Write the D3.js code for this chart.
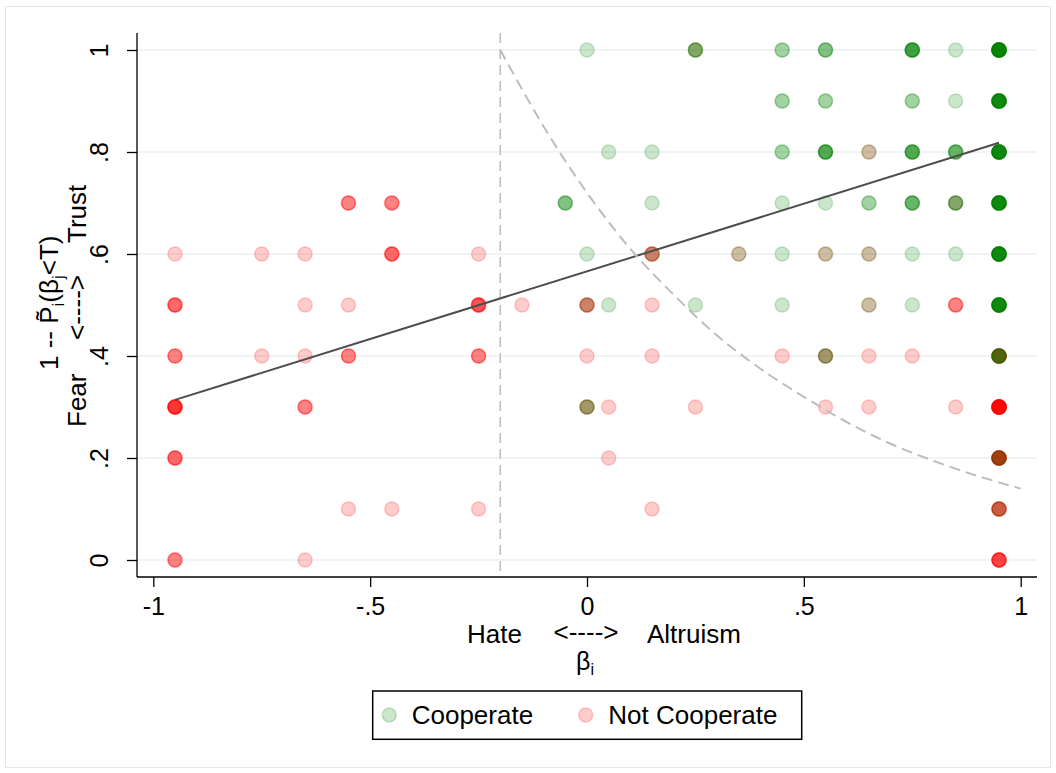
<!DOCTYPE html>
<html>

<head>
  <meta charset="utf-8">
  <title>Cooperation scatter</title>
  <style>
    body { margin: 0; background: #fff; }
    text { font-family: 'Liberation Sans', Arial, Helvetica, sans-serif; fill: #000; }
  </style>
</head>

<body>

  <script src="https://cdn.jsdelivr.net/npm/d3@7"></script>
  <script>
    // Not Cooperate: position and how many people sit on that spot
    const notX = [-0.95, -0.75, -0.65, -0.45, -0.25, 0.15, 0.35, 0.55, 0.65,
      -0.55, -0.45, 0.85,
      -0.95, -0.65, -0.55, -0.25, -0.15, 0, 0.15, 0.65, 0.85,
      -0.95, -0.75, -0.65, -0.55, -0.25, 0, 0.15, 0.45, 0.55, 0.65, 0.75, 0.95,
      -0.95, -0.65, 0, 0.05, 0.25, 0.55, 0.65, 0.85, 0.95,
      -0.95, 0.05, 0.95,
      -0.55, -0.45, -0.25, 0.15, 0.95,
      -0.95, -0.65, 0.95,
      0.25, 0.65];
    const notY = [0.6, 0.6, 0.6, 0.6, 0.6, 0.6, 0.6, 0.6, 0.6,
      0.7, 0.7, 0.7,
      0.5, 0.5, 0.5, 0.5, 0.5, 0.5, 0.5, 0.5, 0.5,
      0.4, 0.4, 0.4, 0.4, 0.4, 0.4, 0.4, 0.4, 0.4, 0.4, 0.4, 0.4,
      0.3, 0.3, 0.3, 0.3, 0.3, 0.3, 0.3, 0.3, 0.3,
      0.2, 0.2, 0.2,
      0.1, 0.1, 0.1, 0.1, 0.1,
      0, 0, 0,
      1.0, 0.8];
    const notN = [1, 1, 1, 4, 1, 3, 1, 1, 1,
      3, 3, 1,
      4, 1, 1, 5, 1, 3, 1, 1, 3,
      3, 1, 1, 3, 3, 1, 1, 1, 2, 1, 1, 8,
      7, 3, 2, 1, 1, 1, 1, 1, 15,
      4, 1, 10,
      1, 1, 1, 1, 5,
      3, 1, 6,
      1, 1];

    // Cooperate
    const coopX = [0, 0.25, 0.45, 0.55, 0.75, 0.85, 0.95,
      0.45, 0.55, 0.75, 0.85, 0.95,
      0.05, 0.15, 0.45, 0.55, 0.65, 0.75, 0.85, 0.95,
      -0.05, 0.15, 0.45, 0.55, 0.65, 0.75, 0.85, 0.95,
      0, 0.15, 0.35, 0.45, 0.55, 0.65, 0.75, 0.85, 0.95,
      0, 0.05, 0.25, 0.45, 0.65, 0.75, 0.95,
      0.55, 0.95,
      0,
      0.95,
      0.95];
    const coopY = [1, 1, 1, 1, 1, 1, 1,
      0.9, 0.9, 0.9, 0.9, 0.9,
      0.8, 0.8, 0.8, 0.8, 0.8, 0.8, 0.8, 0.8,
      0.7, 0.7, 0.7, 0.7, 0.7, 0.7, 0.7, 0.7,
      0.6, 0.6, 0.6, 0.6, 0.6, 0.6, 0.6, 0.6, 0.6,
      0.5, 0.5, 0.5, 0.5, 0.5, 0.5, 0.5,
      0.4, 0.4,
      0.3,
      0.2,
      0.1];
    const coopN = [1, 3, 2, 3, 6, 1, 15,
      2, 2, 2, 1, 12,
      1, 1, 2, 5, 1, 5, 4, 12,
      3, 1, 1, 1, 2, 4, 3, 12,
      1, 1, 1, 1, 1, 1, 1, 1, 12,
      1, 1, 1, 1, 1, 1, 12,
      2, 5,
      2,
      2,
      1];

    // linear fit and the threshold curve
    const fitX = [-0.95, 0.95];
    const fitY = [0.314, 0.818];
    const curveX = [-0.2, -0.1, 0, 0.1, 0.2, 0.3, 0.4, 0.5, 0.6, 0.7, 0.8, 0.9, 1.0];
    const curveY = [1.0, 0.85, 0.72, 0.61, 0.52, 0.44, 0.375, 0.32, 0.27, 0.228, 0.194, 0.165, 0.14];
    const cutX = -0.2;

    const xTicks = [-1, -0.5, 0, 0.5, 1];
    const xTickLabels = ['-1', '-.5', '0', '.5', '1'];
    const yTicks = [0, 0.2, 0.4, 0.6, 0.8, 1];
    const yTickLabels = ['0', '.2', '.4', '.6', '.8', '1'];

    const width = 1056;
    const height = 773;
    const plot = { left: 137, right: 1037, top: 33, bottom: 577 };

    const svg = d3.select('body')
      .append('svg')
      .attr('width', width)
      .attr('height', height);

    // outer frame
    svg.append('rect')
      .attr('x', 5.5).attr('y', 6.5)
      .attr('width', 1045).attr('height', 761)
      .attr('fill', 'none')
      .attr('stroke', '#e3e9eb');

    const x = d3.scaleLinear().domain([-1, 1]).range([153.3, 1020.7]);
    const y = d3.scaleLinear().domain([0, 1]).range([560, 50]);

    // grid
    svg.append('g')
      .selectAll('line')
      .data(yTicks)
      .join('line')
      .attr('x1', plot.left).attr('x2', plot.right)
      .attr('y1', (d) => y(d)).attr('y2', (d) => y(d))
      .attr('stroke', '#eaf1f3')
      .attr('stroke-width', 1.5);

    // vertical cut line
    svg.append('line')
      .attr('x1', x(cutX)).attr('x2', x(cutX))
      .attr('y1', plot.top).attr('y2', plot.bottom)
      .attr('stroke', '#bdbdbd')
      .attr('stroke-width', 1.5)
      .attr('stroke-dasharray', '10,6');

    // expand counts into single observations
    const expand = (xs, ys, ns) => xs.flatMap((v, i) => d3.range(ns[i]).map(() => [v, ys[i]]));

    const drawPoints = (selection, pts, color) => {
      selection.append('g')
        .selectAll('circle')
        .data(pts)
        .join('circle')
        .attr('cx', (d) => x(d[0]))
        .attr('cy', (d) => y(d[1]))
        .attr('r', 7)
        .attr('fill', color)
        .attr('fill-opacity', 0.2)
        .attr('stroke', color)
        .attr('stroke-opacity', 0.2)
        .attr('stroke-width', 1.5);
    };

    svg
      .call(drawPoints, expand(notX, notY, notN), '#ff0000')
      .call(drawPoints, expand(coopX, coopY, coopN), '#008000');

    // fit line
    svg.append('path')
      .datum(d3.zip(fitX, fitY))
      .attr('d', d3.line().x((d) => x(d[0])).y((d) => y(d[1])))
      .attr('fill', 'none')
      .attr('stroke', '#4d4d4d')
      .attr('stroke-width', 2);

    // threshold curve
    svg.append('path')
      .datum(d3.zip(curveX, curveY))
      .attr('d', d3.line().curve(d3.curveCatmullRom).x((d) => x(d[0])).y((d) => y(d[1])))
      .attr('fill', 'none')
      .attr('stroke', '#bdbdbd')
      .attr('stroke-width', 2)
      .attr('stroke-dasharray', '11,6');

    // x axis
    const xAxis = svg.append('g')
      .attr('transform', `translate(0,${plot.bottom})`)
      .call(d3.axisBottom(x)
        .tickValues(xTicks)
        .tickFormat((d, i) => xTickLabels[i])
        .tickSize(10)
        .tickSizeOuter(0)
        .tickPadding(10));
    xAxis.select('.domain').remove();
    xAxis.selectAll('line').attr('stroke', '#000').attr('stroke-width', 1.3);
    xAxis.selectAll('text').attr('font-size', 25).attr('font-family', null);
    xAxis.append('line')
      .attr('x1', plot.left).attr('x2', plot.right)
      .attr('stroke', '#000').attr('stroke-width', 1.3);

    // y axis
    const yAxis = svg.append('g')
      .attr('transform', `translate(${plot.left},0)`)
      .call(d3.axisLeft(y)
        .tickValues(yTicks)
        .tickFormat((d, i) => yTickLabels[i])
        .tickSize(10)
        .tickSizeOuter(0));
    yAxis.select('.domain').remove();
    yAxis.selectAll('line').attr('stroke', '#000').attr('stroke-width', 1.3);
    yAxis.selectAll('text')
      .attr('font-size', 25)
      .attr('font-family', null)
      .attr('x', 0)
      .attr('dy', null)
      .attr('text-anchor', 'middle')
      .attr('transform', 'translate(-29,0) rotate(-90)');
    yAxis.append('line')
      .attr('y1', plot.top).attr('y2', plot.bottom)
      .attr('stroke', '#000').attr('stroke-width', 1.3);

    // x title
    const xt = svg.append('g').attr('font-size', 26);
    xt.append('text').attr('x', 522).attr('y', 643).attr('text-anchor', 'end').text('Hate');
    xt.append('text').attr('x', 586).attr('y', 641).attr('text-anchor', 'middle').text('<---->');
    xt.append('text').attr('x', 647).attr('y', 643).text('Altruism');
    const beta = xt.append('text').attr('x', 585).attr('y', 670).attr('font-size', 25).attr('text-anchor', 'middle');
    beta.append('tspan').text('β');
    beta.append('tspan').attr('font-size', 16).attr('dy', 5).text('i');

    // y title
    const yt = svg.append('g').attr('font-size', 26);
    const line1 = yt.append('text').attr('transform', 'translate(58,370) rotate(-90)');
    line1.append('tspan').text('1 -- P\u0303');
    line1.append('tspan').attr('font-size', 17).attr('dy', 6).text('i');
    line1.append('tspan').attr('dy', -6).text('(β');
    line1.append('tspan').attr('font-size', 17).attr('dy', 6).text('j');
    line1.append('tspan').attr('dy', -6).text('<T)');
    yt.append('text').attr('transform', 'translate(86,427) rotate(-90)').text('Fear');
    yt.append('text').attr('transform', 'translate(86,340) rotate(-90)').text('<---->');
    yt.append('text').attr('transform', 'translate(86,243) rotate(-90)').text('Trust');

    // legend
    const legend = svg.append('g');
    legend.append('rect')
      .attr('x', 372.7).attr('y', 691)
      .attr('width', 429).attr('height', 48.3)
      .attr('fill', '#fff')
      .attr('stroke', '#000')
      .attr('stroke-width', 1.5);
    const items = [
      { label: 'Cooperate', color: '#008000', cx: 389.3, tx: 411.7 },
      { label: 'Not Cooperate', color: '#ff0000', cx: 585.7, tx: 608.3 }
    ];
    legend.selectAll('circle')
      .data(items)
      .join('circle')
      .attr('cx', (d) => d.cx).attr('cy', 715)
      .attr('r', 7)
      .attr('fill', (d) => d.color).attr('fill-opacity', 0.2)
      .attr('stroke', (d) => d.color).attr('stroke-opacity', 0.2)
      .attr('stroke-width', 1.5);
    legend.selectAll('text')
      .data(items)
      .join('text')
      .attr('x', (d) => d.tx).attr('y', 724)
      .attr('font-size', 26)
      .text((d) => d.label);

  </script>

</body>

</html>
